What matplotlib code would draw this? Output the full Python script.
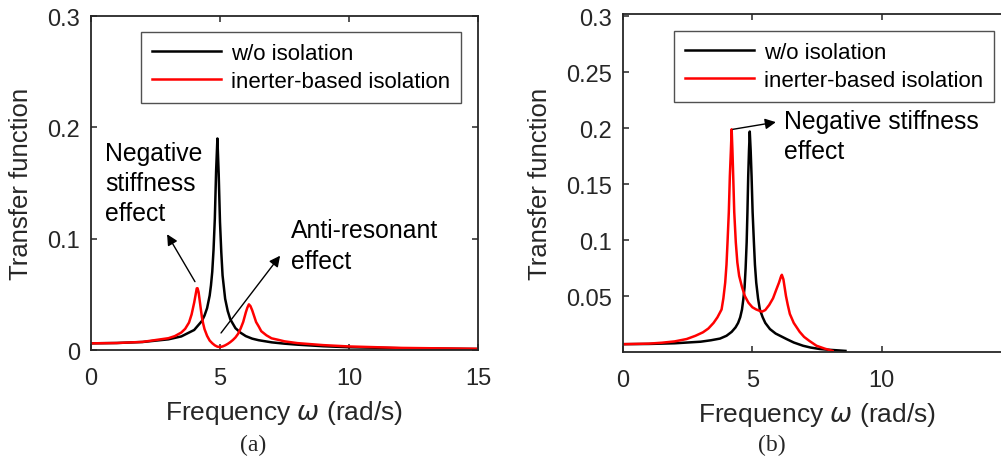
import numpy as np
import matplotlib
matplotlib.use('Agg')
import matplotlib.pyplot as plt

plt.rcParams['font.family'] = ['Liberation Sans', 'DejaVu Sans']
plt.rcParams['mathtext.fontset'] = 'dejavusans'

# (a) values
freq_a_black = [0, 1, 2, 3, 3.5, 4, 4.3, 4.4, 4.5, 4.6, 4.65, 4.7, 4.75, 4.8, 4.85, 4.9, 4.95,
                5.0, 5.05, 5.1, 5.2, 5.3, 5.4, 5.6, 5.8, 6, 6.25, 6.5, 7, 7.5, 8, 9, 10, 12, 15]
tf_a_black = [0.006, 0.0063, 0.0072, 0.0096, 0.0122, 0.018, 0.0261, 0.031, 0.0376, 0.0489,
              0.058, 0.0702, 0.09, 0.118, 0.161, 0.19, 0.158, 0.115, 0.088, 0.067, 0.046,
              0.035, 0.0276, 0.0196, 0.0155, 0.0125, 0.0102, 0.0088, 0.0069, 0.0057, 0.0048,
              0.0034, 0.0025, 0.0016, 0.0009]
freq_a_red = [0, 1, 2, 3, 3.25, 3.5, 3.65, 3.8, 3.9, 4.0, 4.05, 4.1, 4.13, 4.17, 4.2, 4.25,
              4.3, 4.35, 4.4, 4.5, 4.6, 4.7, 4.8, 4.9, 5.0, 5.1, 5.2, 5.3, 5.4, 5.5, 5.6, 5.7,
              5.8, 5.9, 6.0, 6.06, 6.12, 6.18, 6.25, 6.33, 6.4, 6.5, 6.6, 6.8, 7, 7.25, 7.5,
              8, 9, 10, 12, 15]
tf_a_red = [0.006, 0.0063, 0.0073, 0.0106, 0.0125, 0.0157, 0.019, 0.0247, 0.032, 0.0426,
            0.049, 0.0554, 0.0555, 0.052, 0.0468, 0.038, 0.0294, 0.0235, 0.0188, 0.0127,
            0.0085, 0.0061, 0.0042, 0.003, 0.0027, 0.0032, 0.0042, 0.0055, 0.0071, 0.009,
            0.0113, 0.0145, 0.0193, 0.0252, 0.0337, 0.038, 0.041, 0.0395, 0.0356, 0.030,
            0.0251, 0.0212, 0.0169, 0.0132, 0.0105, 0.0092, 0.0078, 0.0062, 0.0044, 0.0032,
            0.0019, 0.0011]

# (b) values
freq_b_black = [0, 1, 2, 3, 3.4, 3.75, 4.0, 4.2, 4.35, 4.45, 4.53, 4.6, 4.65, 4.7, 4.74, 4.78,
                4.81, 4.84, 4.87, 4.9, 4.935, 4.97, 5.01, 5.06, 5.1, 5.15, 5.22, 5.29, 5.4,
                5.5, 5.68, 5.9, 6.32, 6.6, 6.96, 7.25, 7.6, 7.9, 8.1, 8.6]
tf_b_black = [0.007, 0.0072, 0.0078, 0.0092, 0.0105, 0.012, 0.0145, 0.018, 0.022, 0.026,
              0.031, 0.038, 0.047, 0.058, 0.075, 0.098, 0.125, 0.157, 0.18, 0.197, 0.18,
              0.157, 0.125, 0.098, 0.078, 0.062, 0.048, 0.038, 0.031, 0.026, 0.0205, 0.0165,
              0.0116, 0.0085, 0.0056, 0.004, 0.0027, 0.0021, 0.0018, 0.001]
freq_b_red = [0, 1, 1.5, 2, 2.46, 2.8, 3.09, 3.3, 3.5, 3.65, 3.81, 3.88, 3.95, 4.0, 4.04, 4.09,
              4.13, 4.17, 4.2, 4.23, 4.26, 4.3, 4.36, 4.42, 4.49, 4.6, 4.71, 4.85, 5.0, 5.15,
              5.37, 5.5, 5.65, 5.8, 5.93, 6.03, 6.1, 6.14, 6.2, 6.3, 6.37, 6.45, 6.6, 6.83,
              7.0, 7.2, 7.48, 7.8, 8.1]
tf_b_red = [0.007, 0.0075, 0.0083, 0.0095, 0.0116, 0.0145, 0.0176, 0.021, 0.026, 0.031, 0.038,
            0.048, 0.062, 0.078, 0.098, 0.125, 0.157, 0.18, 0.199, 0.18, 0.157, 0.125, 0.098,
            0.08, 0.068, 0.058, 0.05, 0.044, 0.04, 0.038, 0.036, 0.0375, 0.042, 0.048, 0.056,
            0.062, 0.067, 0.069, 0.065, 0.05, 0.042, 0.034, 0.026, 0.018, 0.0135, 0.01,
            0.0056, 0.003, 0.001]

labels = ['w/o isolation', 'inerter-based isolation']
xticks_a = [0, 5, 10, 15]
yticks_a = [0, 0.1, 0.2, 0.3]
yticklabels_a = ['0', '0.1', '0.2', '0.3']
xticks_b = [0, 5, 10]
yticks_b = [0.05, 0.1, 0.15, 0.2, 0.25, 0.3]
yticklabels_b = ['0.05', '0.1', '0.15', '0.2', '0.25', '0.3']

grey = '#262626'
fs_tick = 17
fs_xlabel = 19
fs_ylabel = 18.5
fs_leg = 16
fs_note = 17.8

fig = plt.figure(figsize=(10.01, 4.64), dpi=100)
axA = fig.add_axes([0.0909, 0.2435, 0.3866, 0.7198])
axB = fig.add_axes([0.6224, 0.2392, 0.3876, 0.7284])


def style(ax, leg_anchor):
    for sp in ax.spines.values():
        sp.set_color(grey)
        sp.set_linewidth(1.3)
    ax.tick_params(direction='in', length=4, width=1.1, colors=grey,
                   labelsize=fs_tick, top=True, right=True)
    ax.tick_params(axis='x', pad=12.5)
    ax.tick_params(axis='y', pad=8)
    ax.set_xlabel('Frequency $\\omega$ (rad/s)', fontsize=fs_xlabel, color=grey, labelpad=6)
    ax.set_ylabel('Transfer function', fontsize=fs_ylabel, color=grey, labelpad=10)
    leg = ax.legend(loc='upper right', bbox_to_anchor=leg_anchor, borderaxespad=0,
                    fontsize=fs_leg, frameon=True, fancybox=False, handlelength=3.1,
                    handletextpad=0.45, labelspacing=0.3, borderpad=0.5)
    leg.get_frame().set_edgecolor(grey)
    leg.get_frame().set_linewidth(1.0)


line_kw = dict(lw=1.8, solid_joinstyle='round')

# panel (a)
axA.plot(freq_a_black, tf_a_black, color='k', label=labels[0], **line_kw)
axA.plot(freq_a_red, tf_a_red, color=(1, 0, 0), label=labels[1], **line_kw)
axA.set_xlim(0, 15)
axA.set_ylim(0, 0.3)
axA.set_xticks(xticks_a)
axA.set_yticks(yticks_a)
axA.set_yticklabels(yticklabels_a)
style(axA, (0.956, 0.952))

arrow = dict(arrowstyle='-|>', color='k', lw=1.0, mutation_scale=16, shrinkA=0, shrinkB=0)
axA.annotate('', xy=(2.95, 0.104), xytext=(4.03, 0.0614), arrowprops=arrow)
axA.annotate('', xy=(7.33, 0.0847), xytext=(5.04, 0.0153), arrowprops=arrow)
axA.text(0.55, 0.150, 'Negative\nstiffness\neffect', fontsize=fs_note, ha='left',
         va='center', linespacing=1.33)
axA.text(7.75, 0.094, 'Anti-resonant\neffect', fontsize=fs_note, ha='left',
         va='center', linespacing=1.33)

# panel (b)
axB.plot(freq_b_black, tf_b_black, color='k', label=labels[0], **line_kw)
axB.plot(freq_b_red, tf_b_red, color=(1, 0, 0), label=labels[1], **line_kw)
axB.set_xlim(0, 15)
axB.set_ylim(0, 0.302)
axB.set_xticks(xticks_b)
axB.set_yticks(yticks_b)
axB.set_yticklabels(yticklabels_b)
style(axB, (0.956, 0.950))
axB.annotate('', xy=(5.91, 0.2054), xytext=(4.25, 0.199), arrowprops=arrow)
axB.text(6.22, 0.193, 'Negative stiffness\neffect', fontsize=fs_note, ha='left',
         va='center', linespacing=1.33)

fig.text(253 / 1001, 1 - 445 / 464, '(a)', fontsize=17, family='Liberation Serif',
         ha='center', va='center', color=grey)
fig.text(772 / 1001, 1 - 445 / 464, '(b)', fontsize=17, family='Liberation Serif',
         ha='center', va='center', color=grey)

fig.savefig('out.png', dpi=100)
